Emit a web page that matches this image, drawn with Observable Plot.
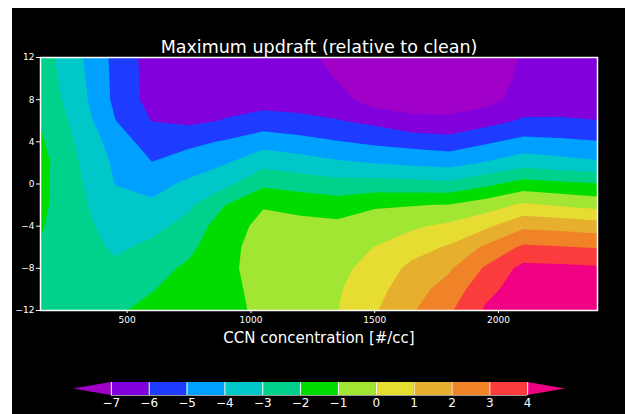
<!DOCTYPE html>
<html><head><meta charset="utf-8">
<script src="https://cdn.jsdelivr.net/npm/d3@7"></script>
<script src="https://cdn.jsdelivr.net/npm/@observablehq/plot@0.6"></script>
<style>
body{margin:0;background:#fff;}
#page{position:relative;width:625px;height:414px;background:#fff;overflow:hidden;font-family:"DejaVu Sans",sans-serif;}
#bg{position:absolute;left:12px;top:8px;width:613px;height:406px;background:#000;}
#main{position:absolute;left:0;top:0;}
#cbar{position:absolute;left:0;top:372px;}
</style></head><body>
<div id="page"><div id="bg"></div><div id="main"></div><div id="cbar"></div></div>
<script>
const title = "Maximum updraft (relative to clean)";
const xLabel = "CCN concentration [#/cc]";

// grid coordinates
const ccn = [150, 300, 450, 600, 750, 900, 1050, 1200, 1350, 1500, 1650, 1800, 1950, 2100, 2250, 2400];
const yGrid = [12, 10, 8, 6, 4, 2, 0, -2, -4, -6, -8, -10, -12];

// values (one array per y row, top to bottom)
const row_p12 = [-2.5, -3.78, -5.25, -6.44, -6.7, -6.6, -6.6, -6.7, -7.3, -7.7, -7.8, -7.9, -7.6, -6.9, -6.95, -6.95];
const row_p10 = [-2.4, -3.67, -5.22, -6.4, -6.55, -6.45, -6.5, -6.55, -7.05, -7.6, -7.65, -7.7, -7.5, -6.8, -6.85, -6.85];
const row_p8  = [-2.25, -3.55, -5.2, -6.38, -6.35, -6.3, -6.4, -6.45, -6.6, -7.5, -7.5, -7.45, -7.35, -6.6, -6.65, -6.6];
const row_p6  = [-2.05, -3.33, -4.96, -6.02, -6.2, -5.95, -5.6, -5.75, -5.95, -6.25, -6.75, -6.81, -6.36, -5.88, -5.85, -5.98];
const row_p4  = [-1.85, -3.12, -4.43, -5.5, -5.25, -4.9, -4.4, -4.65, -4.95, -5.2, -5.4, -5.58, -5.14, -4.7, -4.81, -4.95];
const row_p2  = [-1.66, -2.95, -4.16, -4.97, -4.5, -4.05, -3.3, -3.55, -3.85, -4.02, -4.2, -4.33, -3.92, -3.42, -3.65, -3.85];
const row_0   = [-1.74, -2.82, -4.02, -4.36, -3.8, -3.2, -2.2, -2.45, -2.65, -2.6, -2.65, -2.77, -2.22, -1.58, -1.78, -1.93];
const row_m2  = [-1.78, -2.73, -3.71, -3.8, -3.15, -1.98, -1.05, -1.25, -1.5, -1.1, -1.05, -0.94, -0.49, 0.18, -0.09, -0.36];
const row_m4  = [-1.93, -2.61, -3.45, -3.25, -2.7, -1.33, -0.8, -0.75, -0.75, -0.55, -0.15, 0.22, 0.82, 1.8, 1.68, 1.5];
const row_m6  = [-2.05, -2.5, -3.15, -2.8, -2.25, -1.17, -0.75, -0.55, -0.4, 0.02, 0.6, 1.11, 2.2, 3.18, 3.06, 2.94];
const row_m8  = [-2.2, -2.45, -2.8, -2.4, -1.8, -1.16, -0.7, -0.45, -0.25, 0.35, 1.25, 1.86, 3.14, 4.3, 4.25, 4.15];
const row_m10 = [-2.35, -2.4, -2.45, -2.05, -1.55, -1.24, -0.72, -0.35, -0.1, 0.65, 1.6, 2.4, 3.72, 4.5, 4.4, 4.3];
const row_m12 = [-2.45, -2.35, -2.15, -1.7, -1.4, -1.27, -0.8, -0.3, -0.02, 0.9, 1.9, 2.85, 4.15, 4.6, 4.5, 4.4];

// contour levels and colours (first colour = below lowest level, last = above highest)
const levels = [-7, -6, -5, -4, -3, -2, -1, 0, 1, 2, 3, 4];
const colors = ["#a000c8", "#8200dc", "#1e3cff", "#00a0ff", "#00c8c8", "#00d28c", "#00dc00",
                "#a0e632", "#e6dc32", "#e6af2d", "#f08228", "#fa3c3c", "#f00082"];
const xTicks = [500, 1000, 1500, 2000];
const yTicks = [-12, -8, -4, 0, 4, 8, 12];

const rows = [row_p12, row_p10, row_p8, row_p6, row_p4, row_p2, row_0, row_m2, row_m4, row_m6, row_m8, row_m10, row_m12];
const values = rows.flat();
const dx = ccn[1] - ccn[0];
const dy = yGrid[0] - yGrid[1];
const nx = ccn.length, ny = yGrid.length;

const main = Plot.plot({
  width: 625, height: 360,
  marginLeft: 40, marginRight: 28, marginTop: 57, marginBottom: 50,
  style: {background: "transparent", color: "white", fontFamily: "DejaVu Sans, sans-serif", fontSize: "9px"},
  x: {domain: [ccn[0], ccn[nx - 1]]},
  y: {domain: [yGrid[ny - 1], yGrid[0]]},
  color: {type: "ordinal", domain: levels, range: colors.slice(1)},
  marks: [
    Plot.frame({fill: colors[0]}),
    Plot.contour(values, {
      width: nx, height: ny,
      x1: ccn[0] - dx / 2, x2: ccn[nx - 1] + dx / 2,
      y1: yGrid[0] + dy / 2, y2: yGrid[ny - 1] - dy / 2,
      thresholds: levels, fill: Plot.identity, clip: true
    }),
    Plot.frame({stroke: "white", strokeWidth: 1.5}),
    Plot.axisX({ticks: xTicks, tickSize: 3, tickPadding: 3, label: null, tickFormat: d3.format("d")}),
    Plot.axisY({ticks: yTicks, tickSize: 4, tickPadding: 2, label: null}),
    Plot.text([title], {frameAnchor: "top", dy: -17, fontSize: 17.5, text: d => d, fill: "white"}),
    Plot.text([xLabel], {frameAnchor: "bottom", dy: 32, fontSize: 15, text: d => d, fill: "white"})
  ]
});
document.getElementById("main").append(main);

// colour bar
const lo = levels[0], hi = levels[levels.length - 1];
const boxes = levels.slice(0, -1).map((v, i) => ({x1: v, x2: levels[i + 1], fill: colors[i + 1]}));
const arrowL = [{x: lo - 1, y1: 0.5, y2: 0.5}, {x: lo, y1: 0, y2: 1}];
const arrowR = [{x: hi, y1: 0, y2: 1}, {x: hi + 1, y1: 0.5, y2: 0.5}];
const cbar = Plot.plot({
  width: 625, height: 44,
  marginLeft: 73, marginRight: 60, marginTop: 10, marginBottom: 21,
  style: {background: "transparent", color: "white", fontFamily: "DejaVu Sans, sans-serif", fontSize: "12px"},
  x: {domain: [lo - 1, hi + 1]},
  y: {domain: [0, 1], axis: null},
  color: {type: "identity"},
  marks: [
    Plot.rect(boxes, {x1: "x1", x2: "x2", y1: 0, y2: 1, fill: "fill"}),
    Plot.areaY(arrowL, {x: "x", y1: "y1", y2: "y2", fill: colors[0]}),
    Plot.areaY(arrowR, {x: "x", y1: "y1", y2: "y2", fill: colors[colors.length - 1]}),
    Plot.ruleX(levels, {y1: 0, y2: 1, stroke: "white"}),
    Plot.ruleY([0], {x1: lo, x2: hi, stroke: "white", strokeOpacity: 0.6}),
    Plot.axisX({ticks: levels, tickSize: 0, tickPadding: 3, label: null})
  ]
});
document.getElementById("cbar").append(cbar);
</script>
</body></html>
